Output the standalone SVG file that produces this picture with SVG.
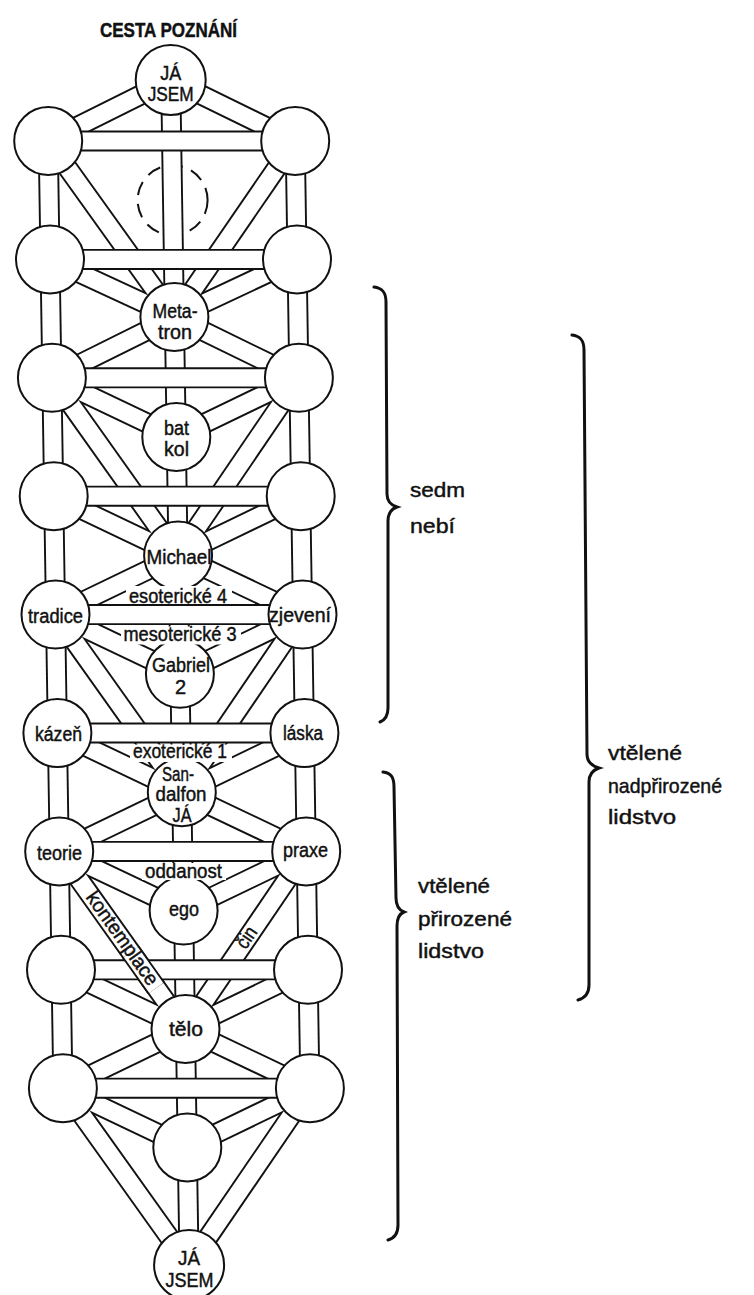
<svg xmlns="http://www.w3.org/2000/svg" width="754" height="1295" viewBox="0 0 754 1295">
<style>
.co{fill:none;stroke:#111;stroke-width:21}
.ci{fill:none;stroke:#fff;stroke-width:17.2}
.nd{fill:#fff;stroke:#111;stroke-width:2}
.dash{fill:none;stroke:#111;stroke-width:2;stroke-dasharray:14 9}
.t{font-family:"Liberation Sans Narrow","Liberation Sans",Arial,sans-serif;font-size:20px;fill:#111;stroke:#111;stroke-width:0.45;text-anchor:middle}
.s{font-family:"Liberation Sans Narrow","Liberation Sans",Arial,sans-serif;font-size:21px;fill:#111;stroke:#111;stroke-width:0.45}
.br{fill:none;stroke:#111;stroke-width:3;stroke-linecap:round}
.mask{fill:#fff}
</style>
<defs>
<g id="chans">
<line x1="170.7" y1="80" x2="189.1" y2="1265"/>
<line x1="48.2" y1="141" x2="62.9" y2="1088.2"/>
<line x1="295.2" y1="141" x2="309.9" y2="1088.2"/>
<line x1="170.7" y1="80" x2="48.2" y2="141"/>
<line x1="170.7" y1="80" x2="295.2" y2="141"/>
<line x1="48.2" y1="141" x2="174.4" y2="317"/>
<line x1="295.2" y1="141" x2="174.4" y2="317"/>
<line x1="50" y1="259.4" x2="174.4" y2="317"/>
<line x1="297" y1="259.4" x2="174.4" y2="317"/>
<line x1="174.4" y1="317" x2="51.9" y2="377.8"/>
<line x1="174.4" y1="317" x2="298.9" y2="377.8"/>
<line x1="51.9" y1="377.8" x2="176.3" y2="437"/>
<line x1="298.9" y1="377.8" x2="176.3" y2="437"/>
<line x1="51.9" y1="377.8" x2="178.1" y2="555.4"/>
<line x1="298.9" y1="377.8" x2="178.1" y2="555.4"/>
<line x1="53.7" y1="496.2" x2="178.1" y2="555.4"/>
<line x1="300.7" y1="496.2" x2="178.1" y2="555.4"/>
<line x1="178.1" y1="555.4" x2="55.5" y2="614.6"/>
<line x1="178.1" y1="555.4" x2="302.5" y2="614.6"/>
<line x1="55.5" y1="614.6" x2="179.9" y2="673.8"/>
<line x1="302.5" y1="614.6" x2="179.9" y2="673.8"/>
<line x1="55.5" y1="614.6" x2="181.8" y2="792.2"/>
<line x1="302.5" y1="614.6" x2="181.8" y2="792.2"/>
<line x1="57.4" y1="733" x2="181.8" y2="792.2"/>
<line x1="304.4" y1="733" x2="181.8" y2="792.2"/>
<line x1="181.8" y1="792.2" x2="59.2" y2="851.4"/>
<line x1="181.8" y1="792.2" x2="306.2" y2="851.4"/>
<line x1="59.2" y1="851.4" x2="183.6" y2="910.6"/>
<line x1="306.2" y1="851.4" x2="183.6" y2="910.6"/>
<line x1="59.2" y1="851.4" x2="185.5" y2="1029"/>
<line x1="306.2" y1="851.4" x2="185.5" y2="1029"/>
<line x1="61" y1="969.8" x2="185.5" y2="1029"/>
<line x1="308" y1="969.8" x2="185.5" y2="1029"/>
<line x1="185.5" y1="1029" x2="62.9" y2="1088.2"/>
<line x1="185.5" y1="1029" x2="309.9" y2="1088.2"/>
<line x1="62.9" y1="1088.2" x2="187.3" y2="1147.4"/>
<line x1="309.9" y1="1088.2" x2="187.3" y2="1147.4"/>
<line x1="62.9" y1="1088.2" x2="189.1" y2="1265"/>
<line x1="309.9" y1="1088.2" x2="189.1" y2="1265"/>
</g>
<g id="bars">
<line x1="48.2" y1="141" x2="295.2" y2="141"/>
<line x1="50" y1="259.4" x2="297" y2="259.4"/>
<line x1="51.9" y1="377.8" x2="298.9" y2="377.8"/>
<line x1="53.7" y1="496.2" x2="300.7" y2="496.2"/>
<line x1="55.5" y1="614.6" x2="302.5" y2="614.6"/>
<line x1="57.4" y1="733" x2="304.4" y2="733"/>
<line x1="59.2" y1="851.4" x2="306.2" y2="851.4"/>
<line x1="61" y1="969.8" x2="308" y2="969.8"/>
<line x1="62.9" y1="1088.2" x2="309.9" y2="1088.2"/>
</g>
<line id="kpatch" x1="130.7" y1="952" x2="156.3" y2="988"/>
</defs>
<rect width="754" height="1295" fill="#fff"/>
<text class="t" x="168.5" y="37" font-size="17" font-weight="bold" textLength="137" lengthAdjust="spacingAndGlyphs">CESTA POZNÁNÍ</text>
<circle id="daat" class="dash" cx="172.6" cy="200.2" r="35"/>
<g id="connectors">
<use href="#chans" class="co"/>
<use href="#chans" class="ci"/>
<use href="#bars" class="co"/>
<use href="#bars" class="ci"/>
<use href="#kpatch" class="co"/>
<use href="#kpatch" class="ci"/>
</g>
<g id="n-ja-top"><circle class="nd" cx="170.7" cy="80" r="35"/><text class="t" x="170.7" y="80" textLength="21" lengthAdjust="spacingAndGlyphs">JÁ</text><text class="t" x="170.7" y="101" textLength="46" lengthAdjust="spacingAndGlyphs">JSEM</text></g>
<g id="n-r1l"><circle class="nd" cx="48.2" cy="141" r="34"/></g>
<g id="n-r1r"><circle class="nd" cx="295.2" cy="141" r="34"/></g>
<g id="n-r2l"><circle class="nd" cx="50" cy="259.4" r="34"/></g>
<g id="n-r2r"><circle class="nd" cx="297" cy="259.4" r="34"/></g>
<g id="n-metatron"><circle class="nd" cx="174.4" cy="317" r="34"/><text class="t" x="175" y="318" textLength="45" lengthAdjust="spacingAndGlyphs">Meta-</text><text class="t" x="175" y="339" textLength="34" lengthAdjust="spacingAndGlyphs">tron</text></g>
<g id="n-r3l"><circle class="nd" cx="51.9" cy="377.8" r="34"/></g>
<g id="n-r3r"><circle class="nd" cx="298.9" cy="377.8" r="34"/></g>
<g id="n-batkol"><circle class="nd" cx="176.3" cy="437" r="34"/><text class="t" x="176.5" y="435" textLength="25" lengthAdjust="spacingAndGlyphs">bat</text><text class="t" x="176.5" y="456" textLength="25" lengthAdjust="spacingAndGlyphs">kol</text></g>
<g id="n-r4l"><circle class="nd" cx="53.7" cy="496.2" r="34"/></g>
<g id="n-r4r"><circle class="nd" cx="300.7" cy="496.2" r="34"/></g>
<g id="n-michael"><circle class="nd" cx="178.1" cy="555.4" r="34"/><text class="t" x="179" y="564" textLength="65" lengthAdjust="spacingAndGlyphs">Michael</text></g>
<g id="n-tradice"><circle class="nd" cx="55.5" cy="614.6" r="34"/><text class="t" x="55.5" y="623" textLength="55" lengthAdjust="spacingAndGlyphs">tradice</text></g>
<g id="n-zjeveni"><circle class="nd" cx="302.5" cy="614.6" r="34"/><text class="t" x="300" y="622" textLength="62" lengthAdjust="spacingAndGlyphs">zjevení</text></g>
<g id="n-gabriel"><circle class="nd" cx="179.9" cy="673.8" r="34"/><text class="t" x="181" y="672" textLength="58" lengthAdjust="spacingAndGlyphs">Gabriel</text><text class="t" x="180.5" y="694">2</text></g>
<g id="n-kazen"><circle class="nd" cx="57.4" cy="733" r="34"/><text class="t" x="58.5" y="741" textLength="47" lengthAdjust="spacingAndGlyphs">kázeň</text></g>
<g id="n-laska"><circle class="nd" cx="304.4" cy="733" r="34"/><text class="t" x="303" y="740" textLength="40" lengthAdjust="spacingAndGlyphs">láska</text></g>
<g id="n-sandalfon"><circle class="nd" cx="181.8" cy="792.2" r="34"/><text class="t" font-size="17" x="178" y="781" textLength="32" lengthAdjust="spacingAndGlyphs">San-</text><text class="t" font-size="17" x="181" y="801" textLength="51" lengthAdjust="spacingAndGlyphs">dalfon</text><text class="t" font-size="17" x="182" y="822" textLength="19" lengthAdjust="spacingAndGlyphs">JÁ</text></g>
<g id="n-teorie"><circle class="nd" cx="59.2" cy="851.4" r="34"/><text class="t" x="59.5" y="860" textLength="45" lengthAdjust="spacingAndGlyphs">teorie</text></g>
<g id="n-praxe"><circle class="nd" cx="306.2" cy="851.4" r="34"/><text class="t" x="305.5" y="857" textLength="45" lengthAdjust="spacingAndGlyphs">praxe</text></g>
<g id="n-ego"><circle class="nd" cx="183.6" cy="910.6" r="34"/><text class="t" x="184" y="916" textLength="30" lengthAdjust="spacingAndGlyphs">ego</text></g>
<g id="n-r8l"><circle class="nd" cx="61" cy="969.8" r="34"/></g>
<g id="n-r8r"><circle class="nd" cx="308" cy="969.8" r="34"/></g>
<g id="n-telo"><circle class="nd" cx="185.5" cy="1029" r="34"/><text class="t" x="186" y="1036" textLength="34" lengthAdjust="spacingAndGlyphs">tělo</text></g>
<g id="n-r9l"><circle class="nd" cx="62.9" cy="1088.2" r="34"/></g>
<g id="n-r9r"><circle class="nd" cx="309.9" cy="1088.2" r="34"/></g>
<g id="n-bottom"><circle class="nd" cx="187.3" cy="1147.4" r="34"/></g>
<g id="n-ja-bottom"><circle class="nd" cx="189.1" cy="1265" r="35"/><text class="t" x="189" y="1265" textLength="22" lengthAdjust="spacingAndGlyphs">JÁ</text><text class="t" x="189.5" y="1287" textLength="48" lengthAdjust="spacingAndGlyphs">JSEM</text></g>
<g id="channel-labels">
<rect class="mask" x="126" y="586" width="106" height="17.5"/>
<text class="t" x="178" y="603" textLength="98" lengthAdjust="spacingAndGlyphs">esoterické 4</text>
<rect class="mask" x="121" y="626.5" width="120" height="18"/>
<text class="t" x="180" y="641" textLength="113" lengthAdjust="spacingAndGlyphs">mesoterické 3</text>
<rect class="mask" x="130" y="744.5" width="102" height="17.5"/>
<text class="t" font-size="18" x="180" y="758" textLength="94" lengthAdjust="spacingAndGlyphs">exoterické 1</text>
<rect class="mask" x="142" y="863" width="84" height="17"/>
<text class="t" x="183.5" y="878" textLength="77" lengthAdjust="spacingAndGlyphs">oddanost</text>
<text class="t" font-size="16" transform="translate(121.5,939) rotate(54.6)" x="0" y="5.5" textLength="110" lengthAdjust="spacingAndGlyphs">kontemplace</text>
<text class="t" font-size="16" transform="translate(247.3,938) rotate(-55.8)" x="0" y="5.5" textLength="22" lengthAdjust="spacingAndGlyphs">čin</text>
</g>
<g id="braces">
<path class="br" d="M374,287 C382,288 386,292 386,302 L387,494 C387,502 391,505 397,507 C391,509 388,513 388,521 L388,708 C388,716 385,720 380,722"/>
<path class="br" d="M572,335 C580,336 584,340 584,350 L587,754 C587,762 592,766 599,768 C593,770 589,774 589,782 L589,985 C589,993 585,998 578,1000"/>
<path class="br" d="M383,772 C391,773 394,777 394,787 L396,898 C396,906 399,910 404,912 C399,914 397,918 397,926 L398,1225 C398,1233 395,1238 388,1240"/>
</g>
<g id="side-labels">
<text class="s" x="410" y="497" textLength="55" lengthAdjust="spacingAndGlyphs">sedm</text>
<text class="s" x="410" y="533" textLength="45" lengthAdjust="spacingAndGlyphs">nebí</text>
<text class="s" x="608" y="760" textLength="74" lengthAdjust="spacingAndGlyphs">vtělené</text>
<text class="s" x="608" y="793" textLength="114" lengthAdjust="spacingAndGlyphs">nadpřirozené</text>
<text class="s" x="608" y="824" textLength="68" lengthAdjust="spacingAndGlyphs">lidstvo</text>
<text class="s" x="418" y="893" textLength="72" lengthAdjust="spacingAndGlyphs">vtělené</text>
<text class="s" x="418" y="926" textLength="94" lengthAdjust="spacingAndGlyphs">přirozené</text>
<text class="s" x="418" y="958" textLength="66" lengthAdjust="spacingAndGlyphs">lidstvo</text>
</g>
</svg>
